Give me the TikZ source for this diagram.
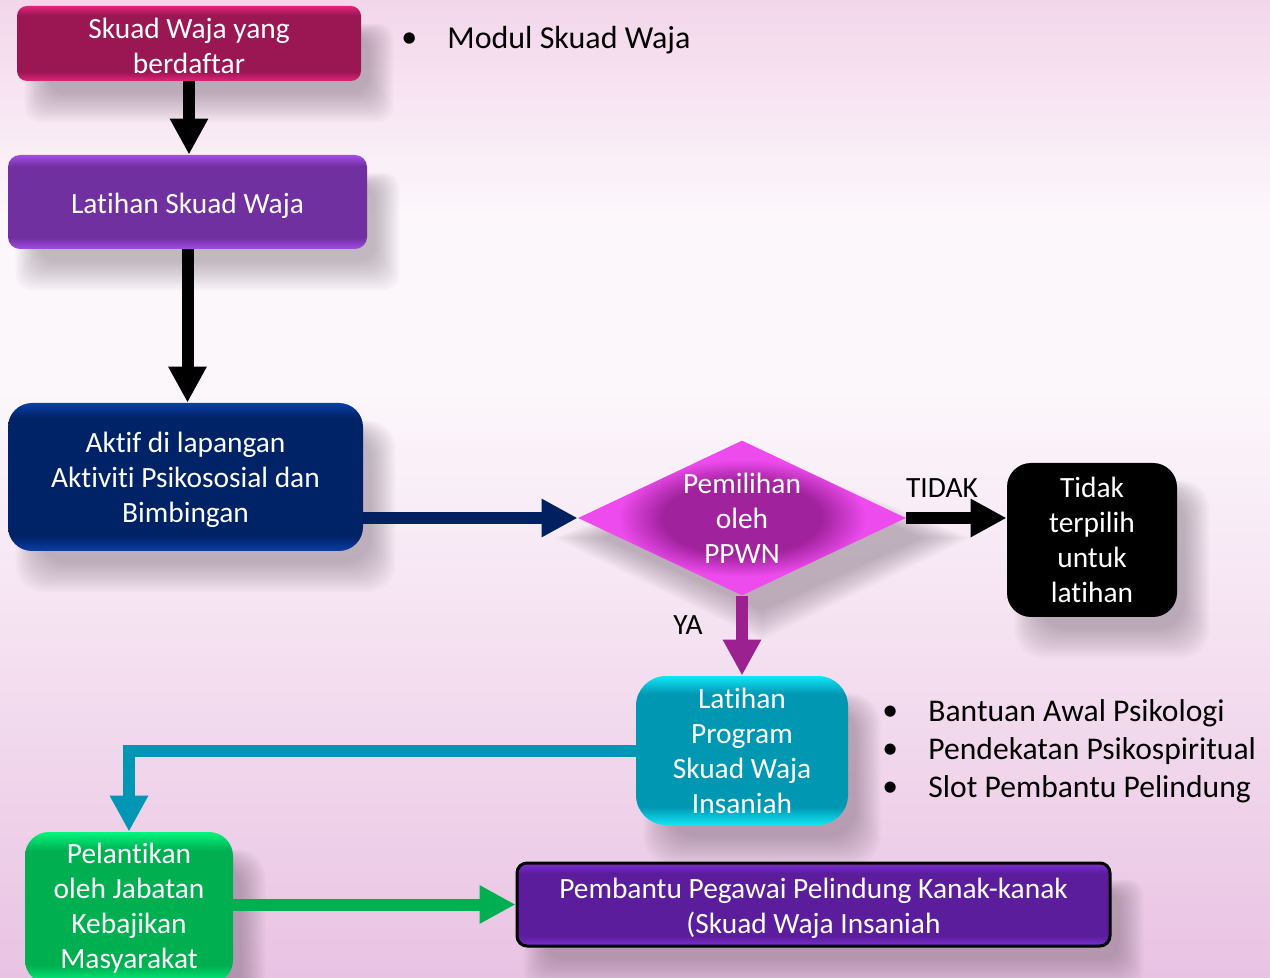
\documentclass[tikz,border=0pt]{standalone}
\usepackage{fontspec}
\setmainfont{Carlito}[Ligatures=CommonOff]
\usetikzlibrary{shapes.geometric,arrows.meta}
\definecolor{aD}{HTML}{9B1753}\definecolor{aL}{HTML}{E3237A}
\definecolor{bD}{HTML}{7030A0}\definecolor{bL}{HTML}{A24DE6}
\definecolor{cD}{HTML}{002266}\definecolor{cL}{HTML}{0A3FA8}
\definecolor{dD}{HTML}{A0229C}\definecolor{dL}{HTML}{EE4BEE}
\definecolor{fD}{HTML}{0097B3}\definecolor{fL}{HTML}{12E6F5}
\definecolor{gD}{HTML}{00B050}\definecolor{gL}{HTML}{00F57E}
\definecolor{hD}{HTML}{5B1D9C}\definecolor{hL}{HTML}{7E2FD6}
\definecolor{navy}{HTML}{002060}
\definecolor{ppl}{HTML}{9B2190}
\definecolor{teal}{HTML}{0096B4}
\definecolor{grn}{HTML}{00B050}
\definecolor{bgB}{HTML}{E9C3E3}\definecolor{bgL}{HTML}{F3DDEF}
\definecolor{bgW}{HTML}{FCF7FB}\definecolor{bgT}{HTML}{F3D6EB}
\definecolor{shd}{HTML}{4A3848}
\pgfdeclareverticalshading{bgsh}{100bp}{color(0bp)=(bgB); color(25bp)=(bgB); color(40bp)=(bgL); color(55bp)=(bgW); color(64bp)=(bgW); color(75bp)=(bgT); color(100bp)=(bgT)}
\pgfdeclareverticalshading{shA}{100bp}{color(0bp)=(aL); color(25bp)=(aL); color(31bp)=(aD); color(69bp)=(aD); color(75bp)=(aL); color(100bp)=(aL)}
\pgfdeclareverticalshading{shB}{100bp}{color(0bp)=(bL); color(25bp)=(bL); color(31bp)=(bD); color(69bp)=(bD); color(75bp)=(bL); color(100bp)=(bL)}
\pgfdeclareverticalshading{shC}{100bp}{color(0bp)=(cL); color(25bp)=(cL); color(30bp)=(cD); color(70bp)=(cD); color(75bp)=(cL); color(100bp)=(cL)}
\pgfdeclareverticalshading{shF}{100bp}{color(0bp)=(fL); color(25bp)=(fL); color(31bp)=(fD); color(69bp)=(fD); color(75bp)=(fL); color(100bp)=(fL)}
\pgfdeclareverticalshading{shG}{100bp}{color(0bp)=(gL); color(25bp)=(gL); color(31bp)=(gD); color(69bp)=(gD); color(75bp)=(gL); color(100bp)=(gL)}
\pgfdeclareverticalshading{shH}{100bp}{color(0bp)=(hL); color(25bp)=(hL); color(31bp)=(hD); color(69bp)=(hD); color(75bp)=(hL); color(100bp)=(hL)}
\pgfdeclareradialshading{shD}{\pgfpoint{0bp}{0bp}}{color(0bp)=(dD); color(12bp)=(dD); color(19bp)=(dL); color(25bp)=(dL); color(50bp)=(dL)}
\pgfdeclarelayer{bglayer}\pgfdeclarelayer{shadowlayer}
\pgfsetlayers{bglayer,shadowlayer,main}
\newcommand{\boxshadow}[2]{%
  \foreach \e in {0,2,...,24}{%
    \fill[shd, opacity=0.028, rounded corners=#2]
      ([shift={(32-\e,30-0.5*\e)}]#1.north west) rectangle ([shift={(8+\e,12+1.2*\e)}]#1.south east);
  }}
\begin{document}
\begin{tikzpicture}[x=0.5pt,y=-0.5pt,
  every node/.style={font=\fontsize{14.7}{17.5}\selectfont},
  box/.style={rounded corners=#1, text=white, align=center, inner sep=0pt,
    execute at begin node={\rule{0pt}{14pt}}},
  btext/.style={text=white, align=center, inner sep=0pt},
  flow/.style={line width=6pt, -{Triangle[width=18pt,length=18pt]}},
  lbl/.style={text=black, inner sep=0pt},
  bul/.style={text=black, inner sep=0pt, anchor=west, font=\fontsize{15.8}{19}\selectfont}]
\useasboundingbox (0,0) rectangle (1270,978);
\begin{pgfonlayer}{bglayer}
\shade[shading=bgsh] (0,0) rectangle (1270,978);
\end{pgfonlayer}
% nodes
\node[box=5pt, shading=shA, minimum width=172pt, minimum height=37.5pt] (A) at (189,43.5) {};
\node[btext] (At) at ([yshift=-1pt]A.center) {Skuad Waja yang\\berdaftar};
\node[box=6pt, shading=shB, minimum width=179.5pt, minimum height=47pt] (B) at (187.5,202) {Latihan Skuad Waja};
\node[box=12pt, shading=shC, minimum width=177.5pt, minimum height=74pt] (C) at (185.5,477) {};
\node[btext] (Ct) at ([yshift=-1.5pt]C.center) {Aktif di lapangan\\Aktiviti Psikososial dan\\Bimbingan};
\node[diamond, shading=shD, minimum width=164pt, minimum height=77.5pt, inner sep=0pt] (D) at (742,518) {};
\node[btext] (Dt) at (D.center) {Pemilihan\\oleh\\PPWN};
\node[box=12pt, fill=black, minimum width=85pt, minimum height=77pt] (E) at (1092,540) {Tidak\\terpilih\\untuk\\latihan};
\node[box=15pt, shading=shF, minimum width=106pt, minimum height=74.5pt] (F) at (742,750.5) {Latihan\\Program\\Skuad Waja\\Insaniah};
\node[box=12pt, shading=shG, minimum width=104pt, minimum height=76pt] (G) at (129,908) {Pelantikan\\oleh Jabatan\\Kebajikan\\Masyarakat};
\node[box=5pt, shading=shH, draw=black, line width=1.5pt, minimum width=296.5pt, minimum height=41.5pt] (H) at (813.5,904.5) {};
\node[btext] (Ht) at ([yshift=-2pt]H.center) {Pembantu Pegawai Pelindung Kanak-kanak\\(Skuad Waja Insaniah};
% shadows
\begin{pgfonlayer}{shadowlayer}
\boxshadow{A}{8pt}
\boxshadow{B}{8pt}
\boxshadow{C}{14pt}
\boxshadow{E}{14pt}
\boxshadow{F}{15pt}
\boxshadow{G}{14pt}
\boxshadow{H}{8pt}
\foreach \e in {0,2,...,24}{%
  \fill[shd, opacity=0.028]
    ([shift={(20,25-0.5*\e)}]D.north) -- ([shift={(15+2*\e,20)}]D.east) --
    ([shift={(20,15+1.2*\e)}]D.south) -- ([shift={(25-2*\e,20)}]D.west) -- cycle;
}
\end{pgfonlayer}
% connectors
\draw[flow, black] (A.south) -- (A.south |- B.north);
\draw[flow, black] (B.south) -- (B.south |- C.north);
\draw[flow, navy] (C.east |- D.west) -- (D.west);
\draw[flow, black] (D.east) -- (E.west |- D.east);
\draw[flow, ppl] (D.south) -- (F.north);
\draw[flow, teal] (F.west) -- (F.west -| G.north) -- (G.north);
\draw[flow, grn] (G.east |- H.west) -- (H.west);
% labels
\node[lbl] (tidak) at (942,488) {TIDAK};
\node[lbl] (ya) at (688,625) {YA};
\node[bul, font=\fontsize{16}{19}\selectfont] (m0) at (401,40) {•};
\node[bul, font=\fontsize{16}{19}\selectfont] (m1) at (447,40) {Modul Skuad Waja};
\node[bul] (r0) at (882,713) {•};
\node[bul] (r1) at (928,713) {Bantuan Awal Psikologi};
\node[bul] (s0) at (882,751) {•};
\node[bul] (s1) at (928,751) {Pendekatan Psikospiritual};
\node[bul] (t0) at (882,789) {•};
\node[bul] (t1) at (928,789) {Slot Pembantu Pelindung};
\end{tikzpicture}
\end{document}
